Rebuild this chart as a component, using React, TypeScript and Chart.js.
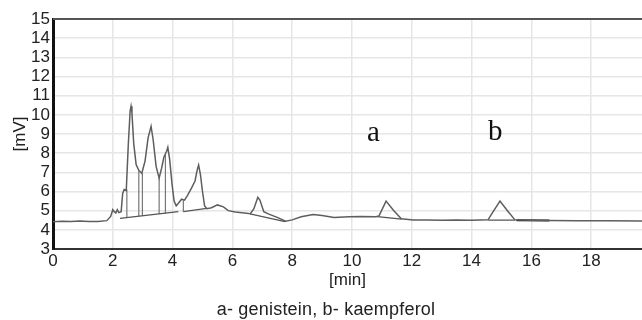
import React, { useEffect, useRef } from "react";
import { Chart, registerables } from "chart.js";

Chart.register(...registerables);

// Chromatogram trace: retention time [min] and detector signal [mV]
const traceTime = [
  0.0, 0.3, 0.6, 0.9, 1.2, 1.5, 1.8, 1.93, 2.0, 2.05, 2.1, 2.15, 2.2, 2.28, 2.33, 2.38, 2.45,
  2.52, 2.58, 2.61, 2.64, 2.7, 2.78, 2.87, 2.97, 3.08, 3.18, 3.28, 3.35, 3.45, 3.55, 3.63,
  3.71, 3.8, 3.84, 3.9, 3.98, 4.05, 4.12, 4.2, 4.3, 4.4, 4.5, 4.64, 4.75, 4.82, 4.87, 4.93,
  5.0, 5.07, 5.15, 5.3, 5.5, 5.7, 5.86, 6.1, 6.4, 6.6, 6.72, 6.85, 6.92, 7.05, 7.2, 7.5,
  7.78, 8.0, 8.3, 8.7, 9.0, 9.4, 9.9, 10.3, 10.8, 10.9, 11.14, 11.4, 11.65, 12.05, 12.5,
  13.0, 13.5, 14.0, 14.55, 14.7, 14.95, 15.2, 15.45, 16.0, 16.6, 17.5, 18.5, 19.7,
];
const traceSignal = [
  4.42, 4.45, 4.43, 4.46, 4.43, 4.44, 4.48, 4.7, 5.05, 4.95, 4.88, 5.05, 4.9, 4.95, 5.9, 6.1, 6.05,
  8.5, 10.2, 10.45, 10.1, 8.5, 7.4, 7.1, 6.95, 7.6, 8.8, 9.4, 8.7, 7.3, 6.7, 7.2,
  7.8, 8.1, 8.3, 7.7, 6.4, 5.5, 5.25, 5.4, 5.6, 5.55, 5.8, 6.2, 6.55, 7.1, 7.38, 6.9,
  6.0, 5.25, 5.1, 5.15, 5.3, 5.2, 5.0, 4.93, 4.88, 4.84, 5.1, 5.7, 5.55, 4.95, 4.83, 4.65,
  4.45, 4.52, 4.68, 4.8, 4.75, 4.65, 4.68, 4.7, 4.68, 4.72, 5.5, 5.0, 4.58, 4.51, 4.51,
  4.5, 4.51, 4.5, 4.52, 4.9, 5.5, 5.0, 4.52, 4.5, 4.49, 4.47, 4.47, 4.46,
];

// Integration baselines (start time, start mV, end time, end mV)
const baseStartTime = [2.24, 4.36, 6.59, 10.85, 14.56];
const baseStartValue = [4.6, 4.95, 4.83, 4.69, 4.51];
const baseEndTime = [4.19, 5.14, 7.76, 11.66, 15.45];
const baseEndValue = [4.95, 5.12, 4.43, 4.56, 4.51];

// Dark baseline segment after peak b
const darkStartTime = [15.5];
const darkStartValue = [4.5];
const darkEndTime = [16.6];
const darkEndValue = [4.49];

// Peak drop lines (time, bottom mV, top mV)
const dropTime = [2.47, 2.87, 2.99, 3.55, 3.76, 4.36];
const dropBottom = [4.64, 4.71, 4.73, 4.83, 4.87, 4.95];
const dropTop = [6.1, 7.1, 6.95, 6.7, 7.9, 5.55];

// Peak labels
const peakLabels = ["a", "b"];
const peakLabelTime = [10.5, 14.55];
const peakLabelValue = [8.65, 8.68];

const xTitle = "[min]";
const yTitle = "[mV]";
const caption = "a- genistein, b- kaempferol";

const SANS = "'Liberation Sans', Arial, Helvetica, sans-serif";
const SERIF = "'Liberation Serif', 'Times New Roman', serif";

function segments(t0: number[], v0: number[], t1: number[], v1: number[]) {
  const pts: { x: number; y: number | null }[] = [];
  for (let i = 0; i < t0.length; i++) {
    pts.push({ x: t0[i], y: v0[i] });
    pts.push({ x: t1[i], y: v1[i] });
    pts.push({ x: t1[i], y: null });
  }
  return pts;
}

export default function App() {
  const ref = useRef<HTMLCanvasElement | null>(null);

  useEffect(() => {
    if (!ref.current) return;

    const extras = {
      id: "extras",
      afterDraw(chart: any) {
        const { ctx, chartArea, scales } = chart;
        ctx.save();
        // top frame line
        ctx.strokeStyle = "#555";
        ctx.lineWidth = 2;
        ctx.beginPath();
        ctx.moveTo(chartArea.left, chartArea.top);
        ctx.lineTo(chartArea.right, chartArea.top);
        ctx.stroke();
        // peak labels
        ctx.fillStyle = "#111";
        ctx.font = `29px ${SERIF}`;
        ctx.textAlign = "left";
        ctx.textBaseline = "alphabetic";
        peakLabels.forEach((l, i) => {
          ctx.fillText(
            l,
            scales.x.getPixelForValue(peakLabelTime[i]),
            scales.y.getPixelForValue(peakLabelValue[i])
          );
        });
        // caption
        ctx.font = `18px ${SANS}`;
        try {
          (ctx as any).letterSpacing = "0.2px";
        } catch (e) {}
        ctx.textAlign = "center";
        ctx.fillStyle = "#222";
        ctx.fillText(caption, 326, 315);
        ctx.restore();
      },
    };

    const chart = new Chart(ref.current, {
      type: "line",
      data: {
        datasets: [
          {
            data: traceTime.map((t, i) => ({ x: t, y: traceSignal[i] })),
            borderColor: "#5e5e5e",
            borderWidth: 1.5,
            pointRadius: 0,
            tension: 0,
          },
          {
            data: segments(baseStartTime, baseStartValue, baseEndTime, baseEndValue),
            borderColor: "#555",
            borderWidth: 1.3,
            pointRadius: 0,
            spanGaps: false,
          },
          {
            data: segments(darkStartTime, darkStartValue, darkEndTime, darkEndValue),
            borderColor: "#222",
            borderWidth: 2,
            pointRadius: 0,
            spanGaps: false,
          },
          {
            data: segments(dropTime, dropBottom, dropTime, dropTop),
            borderColor: "#777",
            borderWidth: 1.2,
            pointRadius: 0,
            spanGaps: false,
          },
        ],
      },
      options: {
        responsive: false,
        animation: false,
        layout: { padding: { top: 19, bottom: 29, left: 0, right: 0 } },
        plugins: {
          legend: { display: false },
          tooltip: { enabled: false },
        },
        scales: {
          x: {
            type: "linear",
            min: 0,
            max: 19.7,
            afterFit: (s: any) => {
              s.height = 42;
            },
            ticks: {
              stepSize: 2,
              includeBounds: false,
              color: "#222",
              font: { family: SANS, size: 17 },
              padding: 2,
              maxRotation: 0,
            },
            grid: { color: "#e6e6e6", lineWidth: 1.5, drawTicks: false },
            border: { display: true, color: "#333", width: 2 },
            title: {
              display: true,
              text: xTitle,
              color: "#222",
              font: { family: SANS, size: 17 },
              padding: { top: 0, bottom: 0 },
            },
          },
          y: {
            type: "linear",
            min: 3,
            max: 15,
            afterFit: (s: any) => {
              s.width = 53;
            },
            ticks: {
              stepSize: 1,
              autoSkip: false,
              color: "#222",
              font: { family: SANS, size: 17 },
              padding: 3,
            },
            grid: { color: "#e6e6e6", lineWidth: 1.5, drawTicks: false },
            border: { display: true, color: "#111", width: 3 },
            title: {
              display: true,
              text: yTitle,
              color: "#222",
              font: { family: SANS, size: 17 },
              padding: { top: 10, bottom: 0 },
            },
          },
        },
      },
      plugins: [extras],
    } as any);

    return () => chart.destroy();
  }, []);

  return (
    <div style={{ position: "fixed", left: 0, top: 0, width: 642, height: 320, background: "#fff" }}>
      <canvas ref={ref} width={642} height={320} style={{ display: "block" }} />
    </div>
  );
}
